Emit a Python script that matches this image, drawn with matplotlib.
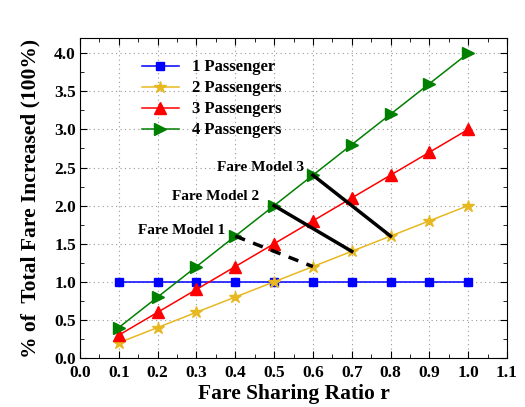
import matplotlib.pyplot as plt
from matplotlib.ticker import MultipleLocator

plt.rcParams['font.family'] = ['Liberation Serif', 'DejaVu Serif']
plt.rcParams['font.weight'] = 'bold'

r = [0.1, 0.2, 0.3, 0.4, 0.5, 0.6, 0.7, 0.8, 0.9, 1.0]
p1 = [1.0, 1.0, 1.0, 1.0, 1.0, 1.0, 1.0, 1.0, 1.0, 1.0]
p2 = [0.2, 0.4, 0.6, 0.8, 1.0, 1.2, 1.4, 1.6, 1.8, 2.0]
p3 = [0.3, 0.6, 0.9, 1.2, 1.5, 1.8, 2.1, 2.4, 2.7, 3.0]
p4 = [0.4, 0.8, 1.2, 1.6, 2.0, 2.4, 2.8, 3.2, 3.6, 4.0]

# fare model connector lines: (x0, x1), (y0, y1)
model1 = ([0.4, 0.6], [1.6, 1.2])
model2 = ([0.5, 0.7], [2.0, 1.4])
model3 = ([0.6, 0.8], [2.4, 1.6])

fig = plt.figure(figsize=(5.25, 4.07), dpi=100)
ax = fig.add_axes([80/525, 1-358/407, 427/525, 320/407])

ax.plot(r, p1, color='#0000FF', marker='s', ms=6, lw=1.1, label='1 Passenger', zorder=3)
ax.plot(r, p2, color='#E8B820', marker='*', ms=9, lw=1.1, label='2 Passengers', zorder=3)
ax.plot(r, p3, color='#FF0000', marker='^', ms=8, lw=1.1, label='3 Passengers', zorder=3)
ax.plot(r, p4, color='#008000', marker='>', ms=8, lw=1.1, label='4 Passengers', zorder=3)

ax.plot(*model1, color='black', lw=2.5, ls=(0, (3, 2.5)), zorder=4)
ax.plot(*model2, color='black', lw=2.5, zorder=4)
ax.plot(*model3, color='black', lw=2.5, zorder=4)

ax.text(0.375, 1.67, 'Fare Model 1', ha='right', va='center', fontsize=11, fontweight='bold')
ax.text(0.462, 2.12, 'Fare Model 2', ha='right', va='center', fontsize=11, fontweight='bold')
ax.text(0.578, 2.5, 'Fare Model 3', ha='right', va='center', fontsize=11, fontweight='bold')

ax.set_xlim(0.0, 1.1)
ax.set_ylim(0.0, 4.2)
ax.xaxis.set_major_locator(MultipleLocator(0.1))
ax.xaxis.set_minor_locator(MultipleLocator(0.05))
ax.yaxis.set_major_locator(MultipleLocator(0.5))
ax.yaxis.set_minor_locator(MultipleLocator(0.25))
ax.xaxis.set_major_formatter(plt.FuncFormatter(lambda v, p: f'{v:.1f}'))
ax.yaxis.set_major_formatter(plt.FuncFormatter(lambda v, p: f'{v:.1f}'))
ax.tick_params(which='both', direction='in', top=True, right=True, labelsize=12.5)
ax.tick_params(which='major', length=5)
ax.tick_params(which='minor', length=3)
ax.tick_params(axis='x', which='major', pad=5)
ax.tick_params(axis='y', which='major', pad=3)
ax.grid(True, which='major', ls=(0, (1, 3)), color='#999999', lw=0.8)

ax.set_xlabel('Fare Sharing Ratio r', fontsize=15.5, fontweight='bold', labelpad=2)
ax.set_ylabel('% of  Total Fare Increased (100%)', fontsize=15.5, fontweight='bold', labelpad=10)

ax.legend(loc='upper left', bbox_to_anchor=(0.11, 0.98), frameon=False, fontsize=12,
          handlelength=2.2, labelspacing=0.3)

fig.savefig('out.png', dpi=100)
